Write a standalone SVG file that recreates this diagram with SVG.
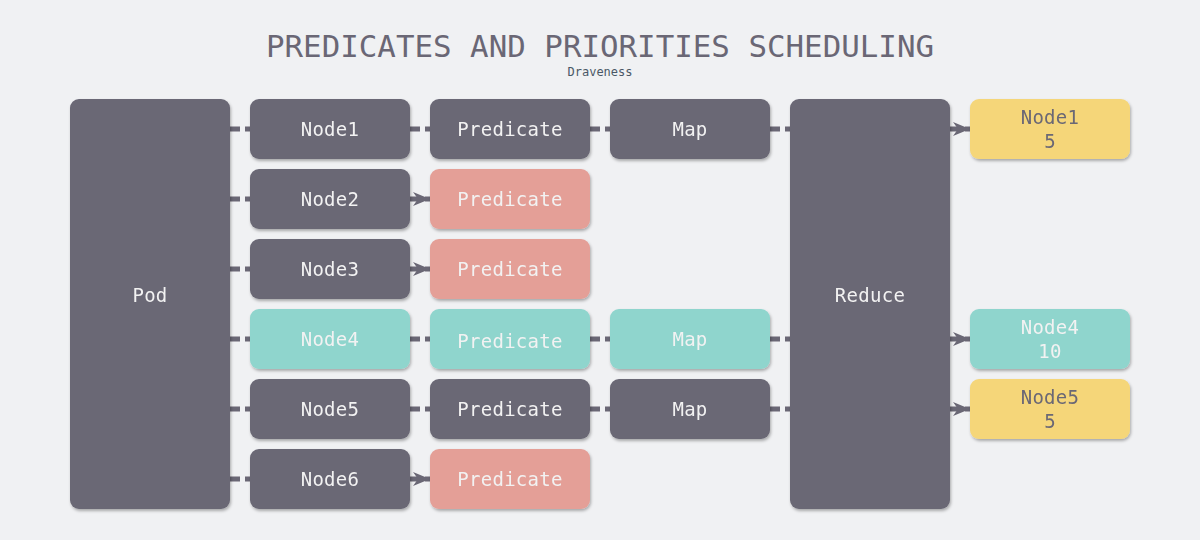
<svg xmlns="http://www.w3.org/2000/svg" width="1200" height="540" viewBox="0 0 1200 540">
<defs>
<filter id="sh" x="-10%" y="-10%" width="120%" height="130%">
<feDropShadow dx="1" dy="2" stdDeviation="1.5" flood-color="#000" flood-opacity="0.3"/>
</filter>
<marker id="arr" markerUnits="userSpaceOnUse" markerWidth="18" markerHeight="14" refX="17" refY="7" orient="auto" viewBox="0 0 18 14">
<path d="M0,0 L17,7 L0,14 L5,7 Z" fill="#6a6775"/>
</marker>
</defs>
<style>
.bg{fill:#f0f1f3}
.box{filter:url(#sh)}
.dark{fill:#6a6775}
.pink{fill:#e49f97}
.teal{fill:#8fd5cd}
.yellow{fill:#f5d679}
.t{font-family:"DejaVu Sans Mono","Liberation Mono",monospace;font-size:19px;text-anchor:middle;letter-spacing:0.3px}
.lt{fill:#f2f2f2}
.dt{fill:#6a6775}
.c{stroke:#6a6775;stroke-width:5;fill:none;stroke-dasharray:10 5}
.title{font-family:"DejaVu Sans Mono","Liberation Mono",monospace;font-size:31px;fill:#6a6775;text-anchor:middle}
.sub{font-family:"DejaVu Sans Mono","Liberation Mono",monospace;font-size:12px;fill:#4a5866;text-anchor:middle}
</style>
<rect class="bg" x="0" y="0" width="1200" height="540"/>
<text class="title" x="600" y="57" textLength="668" lengthAdjust="spacingAndGlyphs">PREDICATES AND PRIORITIES SCHEDULING</text>
<text class="sub" x="600" y="76">Draveness</text>

<g id="connectors">
<line class="c" x1="230" y1="129" x2="250" y2="129"/>
<line class="c" x1="230" y1="199" x2="250" y2="199"/>
<line class="c" x1="230" y1="269" x2="250" y2="269"/>
<line class="c" x1="230" y1="339" x2="250" y2="339"/>
<line class="c" x1="230" y1="409" x2="250" y2="409"/>
<line class="c" x1="230" y1="479" x2="250" y2="479"/>
<line class="c" x1="410" y1="129" x2="430" y2="129"/>
<line class="c" x1="410" y1="199" x2="430" y2="199" marker-end="url(#arr)"/>
<line class="c" x1="410" y1="269" x2="430" y2="269" marker-end="url(#arr)"/>
<line class="c" x1="410" y1="339" x2="430" y2="339"/>
<line class="c" x1="410" y1="409" x2="430" y2="409"/>
<line class="c" x1="410" y1="479" x2="430" y2="479" marker-end="url(#arr)"/>
<line class="c" x1="590" y1="129" x2="610" y2="129"/>
<line class="c" x1="590" y1="339" x2="610" y2="339"/>
<line class="c" x1="590" y1="409" x2="610" y2="409"/>
<line class="c" x1="770" y1="129" x2="790" y2="129"/>
<line class="c" x1="770" y1="339" x2="790" y2="339"/>
<line class="c" x1="770" y1="409" x2="790" y2="409"/>
<line class="c" x1="950" y1="129" x2="970" y2="129" marker-end="url(#arr)"/>
<line class="c" x1="950" y1="339" x2="970" y2="339" marker-end="url(#arr)"/>
<line class="c" x1="950" y1="409" x2="970" y2="409" marker-end="url(#arr)"/>
</g>

<g id="pod" class="box"><rect class="dark" x="70" y="99" width="160" height="410" rx="9"/><text class="t lt" x="150" y="302">Pod</text></g>

<g id="node1" class="box"><rect class="dark" x="250" y="99" width="160" height="60" rx="9"/><text class="t lt" x="330" y="136">Node1</text></g>
<g id="node2" class="box"><rect class="dark" x="250" y="169" width="160" height="60" rx="9"/><text class="t lt" x="330" y="206">Node2</text></g>
<g id="node3" class="box"><rect class="dark" x="250" y="239" width="160" height="60" rx="9"/><text class="t lt" x="330" y="276">Node3</text></g>
<g id="node4" class="box"><rect class="teal" x="250" y="309" width="160" height="60" rx="9"/><text class="t lt" x="330" y="346">Node4</text></g>
<g id="node5" class="box"><rect class="dark" x="250" y="379" width="160" height="60" rx="9"/><text class="t lt" x="330" y="416">Node5</text></g>
<g id="node6" class="box"><rect class="dark" x="250" y="449" width="160" height="60" rx="9"/><text class="t lt" x="330" y="486">Node6</text></g>

<g id="pred1" class="box"><rect class="dark" x="430" y="99" width="160" height="60" rx="9"/><text class="t lt" x="510" y="136">Predicate</text></g>
<g id="pred2" class="box"><rect class="pink" x="430" y="169" width="160" height="60" rx="9"/><text class="t lt" x="510" y="206">Predicate</text></g>
<g id="pred3" class="box"><rect class="pink" x="430" y="239" width="160" height="60" rx="9"/><text class="t lt" x="510" y="276">Predicate</text></g>
<g id="pred4" class="box"><rect class="teal" x="430" y="309" width="160" height="60" rx="9"/><text class="t lt" x="510" y="348">Predicate</text></g>
<g id="pred5" class="box"><rect class="dark" x="430" y="379" width="160" height="60" rx="9"/><text class="t lt" x="510" y="416">Predicate</text></g>
<g id="pred6" class="box"><rect class="pink" x="430" y="449" width="160" height="60" rx="9"/><text class="t lt" x="510" y="486">Predicate</text></g>

<g id="map1" class="box"><rect class="dark" x="610" y="99" width="160" height="60" rx="9"/><text class="t lt" x="690" y="136">Map</text></g>
<g id="map4" class="box"><rect class="teal" x="610" y="309" width="160" height="60" rx="9"/><text class="t lt" x="690" y="346">Map</text></g>
<g id="map5" class="box"><rect class="dark" x="610" y="379" width="160" height="60" rx="9"/><text class="t lt" x="690" y="416">Map</text></g>

<g id="reduce" class="box"><rect class="dark" x="790" y="99" width="160" height="410" rx="9"/><text class="t lt" x="870" y="302">Reduce</text></g>

<g id="res1" class="box"><rect class="yellow" x="970" y="99" width="160" height="60" rx="9"/><text class="t dt" x="1050" y="124">Node1</text><text class="t dt" x="1050" y="148">5</text></g>
<g id="res4" class="box"><rect class="teal" x="970" y="309" width="160" height="60" rx="9"/><text class="t lt" x="1050" y="334">Node4</text><text class="t lt" x="1050" y="358">10</text></g>
<g id="res5" class="box"><rect class="yellow" x="970" y="379" width="160" height="60" rx="9"/><text class="t dt" x="1050" y="404">Node5</text><text class="t dt" x="1050" y="428">5</text></g>
</svg>
